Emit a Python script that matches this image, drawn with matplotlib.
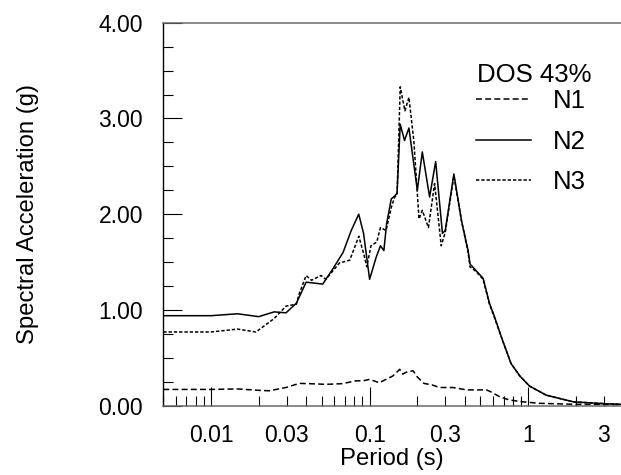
import matplotlib
matplotlib.use("Agg")
import matplotlib.pyplot as plt
from matplotlib.ticker import LogLocator, FuncFormatter, MultipleLocator
import numpy as np

plt.rcParams['font.family'] = ['Liberation Sans', 'DejaVu Sans']
plt.rcParams['lines.scale_dashes'] = False

# Response spectra (period in s, spectral acceleration in g)
period_n1 = [0.005, 0.01, 0.0147, 0.0202, 0.0233, 0.0297, 0.036, 0.0417, 0.053, 0.0674,
             0.082, 0.091, 0.1, 0.115, 0.14, 0.155, 0.162, 0.17, 0.188, 0.2, 0.22, 0.25,
             0.276, 0.335, 0.41, 0.545, 0.58, 0.66, 0.76, 0.93, 1.18, 1.93, 3.85]
sa_n1 = [0.17, 0.17, 0.175, 0.16, 0.156, 0.19, 0.233, 0.23, 0.223, 0.23,
         0.26, 0.26, 0.275, 0.24, 0.31, 0.38, 0.33, 0.35, 0.365, 0.30, 0.233, 0.215,
         0.19, 0.19, 0.165, 0.165, 0.146, 0.094, 0.06, 0.04, 0.025, 0.015, 0.01]

period_n2 = [0.005, 0.0075, 0.01, 0.0147, 0.02, 0.025, 0.0297, 0.0345, 0.0398, 0.0506,
             0.0587, 0.068, 0.0766, 0.0854, 0.0916, 0.1, 0.11, 0.117, 0.123, 0.128,
             0.137, 0.144, 0.149, 0.156, 0.166, 0.177, 0.2, 0.215, 0.239, 0.261, 0.288,
             0.3, 0.34, 0.38, 0.418, 0.43, 0.47, 0.52, 0.57, 0.61, 0.69, 0.78, 0.886,
             1.02, 1.3, 1.93, 3.1, 3.85]
sa_n2 = [0.94, 0.94, 0.94, 0.96, 0.93, 0.98, 0.97, 1.07, 1.29, 1.27,
         1.43, 1.60, 1.83, 2.00, 1.80, 1.32, 1.55, 1.67, 1.62, 1.90,
         2.16, 2.19, 2.22, 2.94, 2.77, 2.90, 2.25, 2.65, 2.18, 2.55, 1.80,
         1.83, 2.42, 1.93, 1.62, 1.48, 1.41, 1.33, 1.07, 0.94, 0.68, 0.44, 0.31,
         0.205, 0.11, 0.04, 0.02, 0.015]

period_n3 = [0.005, 0.0075, 0.01, 0.0147, 0.0192, 0.025, 0.0297, 0.0345, 0.036, 0.0398,
             0.043, 0.0494, 0.053, 0.0645, 0.075, 0.0855, 0.093, 0.096, 0.102, 0.111,
             0.117, 0.127, 0.137, 0.144, 0.149, 0.156, 0.167, 0.177, 0.19, 0.205,
             0.215, 0.235, 0.257, 0.283, 0.3, 0.34, 0.38, 0.418, 0.43, 0.47, 0.52,
             0.57, 0.61, 0.69, 0.78, 0.886, 1.02, 1.3, 1.93, 3.1, 3.85]
sa_n3 = [0.77, 0.77, 0.77, 0.80, 0.77, 0.91, 1.04, 1.06, 1.17, 1.36,
         1.31, 1.36, 1.32, 1.49, 1.52, 1.77, 1.55, 1.45, 1.67, 1.71,
         1.86, 1.83, 2.07, 2.18, 2.20, 3.33, 3.08, 3.22, 2.77, 1.95,
         2.04, 1.86, 2.32, 1.67, 1.81, 2.40, 1.93, 1.60, 1.45, 1.40, 1.32,
         1.06, 0.93, 0.68, 0.44, 0.31, 0.205, 0.11, 0.04, 0.02, 0.015]

legend_title = "DOS 43%"
series_labels = ["N1", "N2", "N3"]
x_label_values = [0.01, 0.03, 0.1, 0.3, 1, 3]

FS = 16.5      # tick labels
AFS = 17.2     # axis titles
LFS = 18.5     # legend text

fig = plt.figure(figsize=(6.21, 4.75), dpi=100)
ax = fig.add_axes([163.3 / 621, 69.3 / 475, 1 - 163.3 / 621, (405.7 - 22.7) / 475])

lw = 1.1
ax.plot(period_n1, sa_n1, color='black', lw=lw, dashes=(4.3, 2.3), label=series_labels[0])
ax.plot(period_n2, sa_n2, color='black', lw=lw, label=series_labels[1])
ax.plot(period_n3, sa_n3, color='black', lw=lw, dashes=(2.4, 1.4), label=series_labels[2])

ax.set_xscale('log')
ax.set_xlim(0.005, 3.85)
ax.set_ylim(0, 4)

# spines: left black, top/bottom grey, no right
ax.spines['right'].set_visible(False)
ax.spines['left'].set_color('black')
ax.spines['left'].set_linewidth(1.0)
for s in ('top', 'bottom'):
    ax.spines[s].set_color('#6a6a6a')
    ax.spines[s].set_linewidth(1.1)

# x ticks: long at decades, short at 2..9; labels at 1 and 3 multiples
ax.xaxis.set_major_locator(LogLocator(base=10, subs=(1.0,)))
ax.xaxis.set_minor_locator(LogLocator(base=10, subs=np.arange(2, 10)))

def fmt_period(v, pos=None):
    for lv in x_label_values:
        if abs(v - lv) / lv < 1e-6:
            return f"{lv:g}"
    return ""

ax.xaxis.set_major_formatter(FuncFormatter(fmt_period))
ax.xaxis.set_minor_formatter(FuncFormatter(fmt_period))

ax.yaxis.set_major_locator(MultipleLocator(1.0))
ax.yaxis.set_minor_locator(MultipleLocator(0.25))
ax.yaxis.set_major_formatter(FuncFormatter(lambda v, p: f"{v:.2f}"))

ax.tick_params(axis='both', which='both', direction='in', width=0.8, colors='black',
               labelsize=FS)
ax.tick_params(axis='both', which='major', length=14)
ax.tick_params(axis='both', which='minor', length=7.2)
ax.tick_params(axis='x', which='both', pad=13, top=False)
ax.tick_params(axis='y', which='both', pad=14.5, right=False)

ax.set_xlabel("Period (s)", fontsize=AFS, labelpad=1)
ax.set_ylabel("Spectral Acceleration (g)", fontsize=AFS)
ax.yaxis.set_label_coords(-0.272, 0.5)

# legend title as its own text, entries below it
ax.text((477 - 163.3) / 457.7, (405.7 - 81.7) / 383.0, legend_title,
        transform=ax.transAxes, fontsize=LFS, ha='left', va='baseline')
leg = ax.legend(loc='upper left',
                bbox_to_anchor=((476 - 163.3) / 457.7, (405.7 - 89) / 383.0),
                frameon=False, fontsize=LFS, borderpad=0,
                borderaxespad=0, handlelength=2.15, handletextpad=0.85,
                labelspacing=0.65)

fig.savefig("out.png", dpi=100)
